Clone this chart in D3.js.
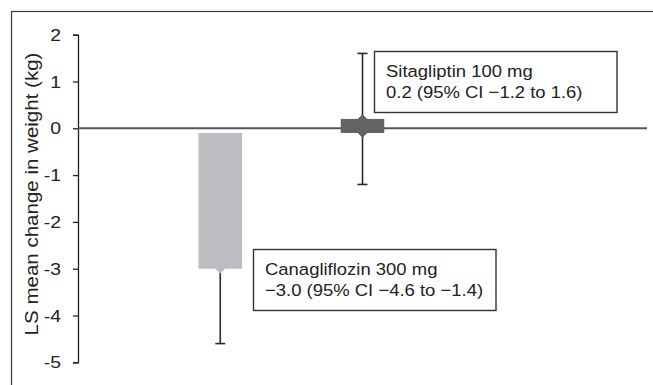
<!DOCTYPE html>
<html>
<head>
<meta charset="utf-8">
<script src="https://cdn.jsdelivr.net/npm/d3@7"></script>
<style>
  html, body { margin: 0; padding: 0; background: #fff; }
  svg { display: block; font-family: "Liberation Sans", Arial, Helvetica, sans-serif; }
</style>
</head>
<body>
<svg id="chart" width="653" height="385"></svg>
<script>
// Treatment groups and their LS mean change in body weight (kg) with 95% CI
const categories = ["Canagliflozin 300 mg", "Sitagliptin 100 mg"];
const means = [-3.0, 0.2];
const ciLow = [-4.6, -1.2];
const ciHigh = [-1.4, 1.6];
const barBase = -0.1;               // bars are drawn from just below the zero line
const barColors = ["#bcbdc0", "#636363"];
const yTicks = [2, 1, 0, -1, -2, -3, -4, -5];
const boxLines = [
  ["Canagliflozin 300 mg", "\u22123.0 (95% CI \u22124.6 to \u22121.4)"],
  ["Sitagliptin 100 mg", "0.2 (95% CI \u22121.2 to 1.6)"]
];

const svg = d3.select("#chart");
const SX = 1.14; // horizontal glyph stretch for axis text
const SXB = 1.1; // horizontal glyph stretch for box text

// Outer frame (extends beyond the visible area on the right and bottom)
svg.append("rect")
  .attr("x", 11.5).attr("y", 11.5)
  .attr("width", 700).attr("height", 420)
  .attr("fill", "none").attr("stroke", "#3a3a3a").attr("stroke-width", 1.2);

const y = d3.scaleLinear().domain([-5, 2]).range([362.3, 34.7]);
const x = d3.scaleLinear().domain([0, 4]).range([78, 647]);
const barW = 43.5;

// Y axis with outward ticks
const axis = svg.append("g")
  .attr("transform", "translate(78,0)")
  .call(d3.axisLeft(y).tickValues(yTicks).tickSize(5).tickSizeOuter(5)
    .tickFormat(d => String(d)));
axis.select(".domain").attr("stroke", "#222").attr("stroke-width", 1.3);
axis.selectAll(".tick line").attr("stroke", "#222").attr("stroke-width", 1.3);
axis.selectAll(".tick text").remove();

// Tick labels, stretched slightly along the baseline
svg.append("g").selectAll("text")
  .data(yTicks).join("text")
  .attr("transform", d => `translate(61,${y(d)}) scale(${SX},1)`)
  .attr("text-anchor", "end")
  .attr("dy", "0.36em")
  .attr("font-size", 17)
  .attr("fill", "#222")
  .text(d => String(d));

// Axis title
svg.append("text")
  .attr("transform", `translate(38,194) rotate(-90) scale(${SX},1)`)
  .attr("text-anchor", "middle")
  .attr("font-size", 18)
  .attr("fill", "#222")
  .text("LS mean change in weight (kg)");

// Zero reference line
svg.append("line")
  .attr("x1", x(0)).attr("x2", x(4))
  .attr("y1", y(0)).attr("y2", y(0))
  .attr("stroke", "#555").attr("stroke-width", 2);

const data = categories.map((c, i) => ({
  cat: c, i, mean: means[i], lo: ciLow[i], hi: ciHigh[i], color: barColors[i]
}));

// Error bars (drawn under the bars)
const eb = svg.append("g").selectAll("g").data(data).join("g");
eb.append("line")
  .attr("x1", d => x(d.i + 1)).attr("x2", d => x(d.i + 1))
  .attr("y1", d => y(d.lo)).attr("y2", d => y(d.hi))
  .attr("stroke", "#2a2a2a").attr("stroke-width", 1.6);
eb.append("line")
  .attr("x1", d => x(d.i + 1) - 5).attr("x2", d => x(d.i + 1) + 5)
  .attr("y1", d => y(d.lo)).attr("y2", d => y(d.lo))
  .attr("stroke", "#2a2a2a").attr("stroke-width", 1.6);
eb.append("line")
  .attr("x1", d => x(d.i + 1) - 5).attr("x2", d => x(d.i + 1) + 5)
  .attr("y1", d => y(d.hi)).attr("y2", d => y(d.hi))
  .attr("stroke", "#2a2a2a").attr("stroke-width", 1.6);

// Bars
svg.append("g").selectAll("rect").data(data).join("rect")
  .attr("x", d => x(d.i + 1) - barW / 2)
  .attr("width", barW)
  .attr("y", d => y(Math.max(d.mean, barBase)))
  .attr("height", d => Math.abs(y(d.mean) - y(barBase)))
  .attr("fill", d => d.color);

// Diamond markers at the bar ends
const diamond = (cx, cy, r) => `M${cx},${cy - r}L${cx + r},${cy}L${cx},${cy + r}L${cx - r},${cy}Z`;
svg.append("g").selectAll("path").data(data).join("path")
  .attr("d", d => diamond(x(d.i + 1), y(d.mean), 4.8))
  .attr("fill", d => d.color);
svg.append("g").selectAll("path").data(data.filter(d => d.mean > 0)).join("path")
  .attr("d", d => diamond(x(d.i + 1), y(barBase), 4.8))
  .attr("fill", d => d.color);

// Annotation boxes
const boxes = [
  { x: 253.5, y: 249.5, w: 242.5, h: 61, lines: boxLines[0] },
  { x: 374.5, y: 51.5, w: 242.5, h: 61, lines: boxLines[1] }
];
const bg = svg.append("g").selectAll("g").data(boxes).join("g");
bg.append("rect")
  .attr("x", d => d.x).attr("y", d => d.y)
  .attr("width", d => d.w).attr("height", d => d.h)
  .attr("fill", "#fff").attr("stroke", "#333").attr("stroke-width", 1.4);
bg.each(function(d) {
  d3.select(this).selectAll("text").data(d.lines).join("text")
    .attr("transform", (t, k) => `translate(${d.x + 11.5},${d.y + 25 + k * 21.5}) scale(${SXB},1)`)
    .attr("font-size", 16.8)
    .attr("fill", "#222")
    .text(t => t);
});
</script>
</body>
</html>
